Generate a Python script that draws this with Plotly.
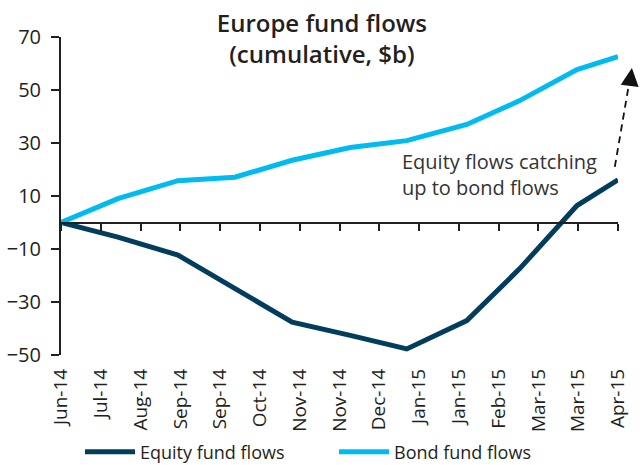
import plotly.graph_objects as go

# Tick labels of the category axis (15 evenly spaced ticks)
tick_labels = ["Jun-14", "Jul-14", "Aug-14", "Sep-14", "Sep-14", "Oct-14", "Nov-14",
               "Nov-14", "Dec-14", "Jan-15", "Jan-15", "Feb-15", "Mar-15", "Mar-15", "Apr-15"]
tick_pos = list(range(len(tick_labels)))

obs_pos = [0, 1.43, 2.94, 4.37, 5.81, 7.27, 8.69, 10.2, 11.53, 12.97, 14.0]
equity = [0, -5.5, -12.3, -25.0, -37.6, -42.6, -47.7, -37.0, -17.4, 6.4, 16.1]
bond = [0, 9.0, 15.8, 17.1, 23.5, 28.3, 30.9, 37.0, 46.0, 57.7, 62.6]

y_ticks = [-50, -30, -10, 10, 30, 50, 70]
Y_MIN, Y_MAX = -50, 70
X_MAX = 14

EQ_COLOR = "#033D5E"
BD_COLOR = "#00BBF0"
AX_COLOR = "#231F20"
FONT = "Open Sans"

fig = go.Figure()
fig.add_trace(go.Scatter(x=obs_pos, y=equity, mode="lines", name="Equity fund flows",
                         line=dict(color=EQ_COLOR, width=5), cliponaxis=False))
fig.add_trace(go.Scatter(x=obs_pos, y=bond, mode="lines", name="Bond fund flows",
                         line=dict(color=BD_COLOR, width=5), cliponaxis=False))
# carrier for the zero-line axis
fig.add_trace(go.Scatter(x=[None], y=[None], xaxis="x2", showlegend=False, hoverinfo="skip"))

fig.update_layout(
    width=640, height=465,
    margin=dict(l=61, r=22, t=37, b=110, autoexpand=False),
    paper_bgcolor="white", plot_bgcolor="white",
    font=dict(family=FONT, color=AX_COLOR, size=18),
    title=dict(text="Europe fund flows<br>(cumulative, $b)", x=0.503, xanchor="center",
               y=1 - 32 / 465, yanchor="middle", yref="container",
               font=dict(family=FONT, size=24, weight=600, color=AX_COLOR)),
    xaxis=dict(range=[0, X_MAX], tickvals=tick_pos, ticktext=tick_labels, tickangle=-90,
               showline=False, ticks="", showgrid=False, zeroline=False,
               tickfont=dict(size=19, color=AX_COLOR), ticklabelstandoff=9),
    xaxis2=dict(range=[0, X_MAX], overlaying="x", anchor="free",
                position=(0 - Y_MIN) / (Y_MAX - Y_MIN),
                side="bottom", tickvals=tick_pos, showticklabels=False, ticks="outside",
                ticklen=7, tickwidth=2, tickcolor=AX_COLOR, showline=True, linewidth=2,
                linecolor=AX_COLOR, showgrid=False, zeroline=False),
    yaxis=dict(range=[Y_MIN, Y_MAX], tickvals=y_ticks, ticks="outside", ticklen=8, tickwidth=2,
               tickcolor=AX_COLOR, showline=True, linewidth=2, linecolor=AX_COLOR,
               showgrid=False, zeroline=False, tickfont=dict(size=20, color=AX_COLOR),
               ticklabelstandoff=6),
    legend=dict(orientation="h", xref="container", yref="container", x=80 / 640,
                y=1 - 452 / 465, yanchor="middle", xanchor="left", itemwidth=50,
                font=dict(size=18, color=AX_COLOR), entrywidth=189, entrywidthmode="pixels"),
    showlegend=True,
)

fig.add_annotation(x=8.52, y=18.3, xref="x", yref="y", xanchor="left", yanchor="middle",
                   align="left", showarrow=False,
                   text="Equity flows catching<br>up to bond flows",
                   font=dict(family=FONT, size=20, color="#333333"))


def px(ix):
    return ix / X_MAX


def py(v):
    return (v - Y_MIN) / (Y_MAX - Y_MIN)


# dashed arrow (paper coordinates so it may leave the plot area)
fig.add_shape(type="line", x0=px(13.92), y0=py(21.0), x1=px(14.29), y1=py(53.5),
              xref="paper", yref="paper",
              line=dict(color="#111111", width=1.8, dash="7px,5px"))
fig.add_annotation(x=px(14.35), y=py(58.3), xref="paper", yref="paper",
                   ax=-2, ay=16, showarrow=True, arrowhead=2, arrowsize=1.8, arrowwidth=2,
                   arrowcolor="#111111", text="")

fig.write_html("out.html", config={"displayModeBar": False},
               post_script="document.body.style.margin='0px';")
